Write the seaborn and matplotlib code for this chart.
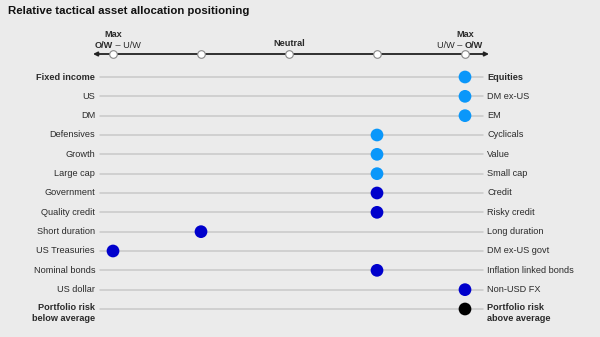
import matplotlib
matplotlib.use("Agg")
import matplotlib.pyplot as plt
import seaborn as sns
import pandas as pd

left_labels = ["Fixed income", "US", "DM", "Defensives", "Growth", "Large cap",
               "Government", "Quality credit", "Short duration", "US Treasuries",
               "Nominal bonds", "US dollar", "Portfolio risk\nbelow average"]
right_labels = ["Equities", "DM ex-US", "EM", "Cyclicals", "Value", "Small cap",
                "Credit", "Risky credit", "Long duration", "DM ex-US govt",
                "Inflation linked bonds", "Non-USD FX", "Portfolio risk\nabove average"]
positions = [2, 2, 2, 1, 1, 1, 1, 1, -1, -2, 1, 2, 2]
groups = ["Equity", "Equity", "Equity", "Equity", "Equity", "Equity",
          "Fixed income", "Fixed income", "Fixed income", "Fixed income",
          "Fixed income", "FX", "Risk"]
bold_rows = [0, 12]
scale_ticks = [-2, -1, 0, 1, 2]

palette = {"Equity": "#0a97fa", "Fixed income": "#0000cc", "FX": "#0000cc", "Risk": "#000000"}

df = pd.DataFrame({"row": range(len(left_labels)), "pos": positions, "group": groups})

sns.set_theme(style="white")
plt.rcParams["font.family"] = ["Liberation Sans", "DejaVu Sans"]

BG = "#ebebeb"
TXT = "#2a2a2a"
FS = 6.6
fig = plt.figure(figsize=(6.0, 3.37), dpi=100, facecolor=BG)
ax = fig.add_axes([0, 0, 1, 1])
ax.set_facecolor(BG)

# pixel mapping: x_px = 113 + (v+2)*88 ; y_px = 77 + i*19.33
def vx(px):
    return (px - 113) / 88.0 - 2
def iy(py):
    return (py - 77) / 19.333

ax.set_xlim(vx(0), vx(600))
ax.set_ylim(iy(337), iy(0))
ax.axis("off")

# row grid lines
for i in range(len(left_labels)):
    ax.plot([vx(100), vx(483)], [i, i], color="#c9c9c9", lw=1.1, zorder=1)

sns.scatterplot(data=df, x="pos", y="row", hue="group", palette=palette,
                s=84, edgecolor="none", legend=False, ax=ax, zorder=3)

# labels
for i, (l, r) in enumerate(zip(left_labels, right_labels)):
    w = "bold" if i in bold_rows else "normal"
    ax.text(vx(95), i + (0.2 if "\n" in l else 0), l, ha="right", va="center",
            fontsize=FS, fontweight=w, color=TXT, linespacing=1.2)
    ax.text(vx(487), i + (0.2 if "\n" in r else 0), r, ha="left", va="center",
            fontsize=FS, fontweight=w, color=TXT, linespacing=1.2)

# scale arrow
ya = iy(54)
ax.annotate("", xy=(vx(93), ya), xytext=(vx(489), ya),
            arrowprops=dict(arrowstyle="<|-|>", color="#222222", lw=1.3,
                            mutation_scale=6, shrinkA=0, shrinkB=0), zorder=2)
ax.scatter(scale_ticks, [ya] * len(scale_ticks), s=30, facecolor="white",
           edgecolor="#888888", linewidth=0.8, zorder=4)

# scale headers
ax.text(-2, iy(34.5), "Max", ha="center", va="center", fontsize=FS, fontweight="bold", color=TXT)
ax.text(-2, iy(45.5), "O/W", ha="right", va="center", fontsize=FS, fontweight="bold", color=TXT)
ax.text(-2, iy(45.5), " – U/W", ha="left", va="center", fontsize=FS, color=TXT)
ax.text(0, iy(44), "Neutral", ha="center", va="center", fontsize=FS, fontweight="bold", color=TXT)
ax.text(2, iy(34.5), "Max", ha="center", va="center", fontsize=FS, fontweight="bold", color=TXT)
ax.text(2, iy(45.5), "U/W – ", ha="right", va="center", fontsize=FS, color=TXT)
ax.text(2, iy(45.5), "O/W", ha="left", va="center", fontsize=FS, fontweight="bold", color=TXT)

# title
ax.text(vx(8), iy(10.5), "Relative tactical asset allocation positioning", ha="left", va="center",
        fontsize=8.2, fontweight="bold", color="#111111")

fig.savefig("out.png", dpi=100, facecolor=BG)
